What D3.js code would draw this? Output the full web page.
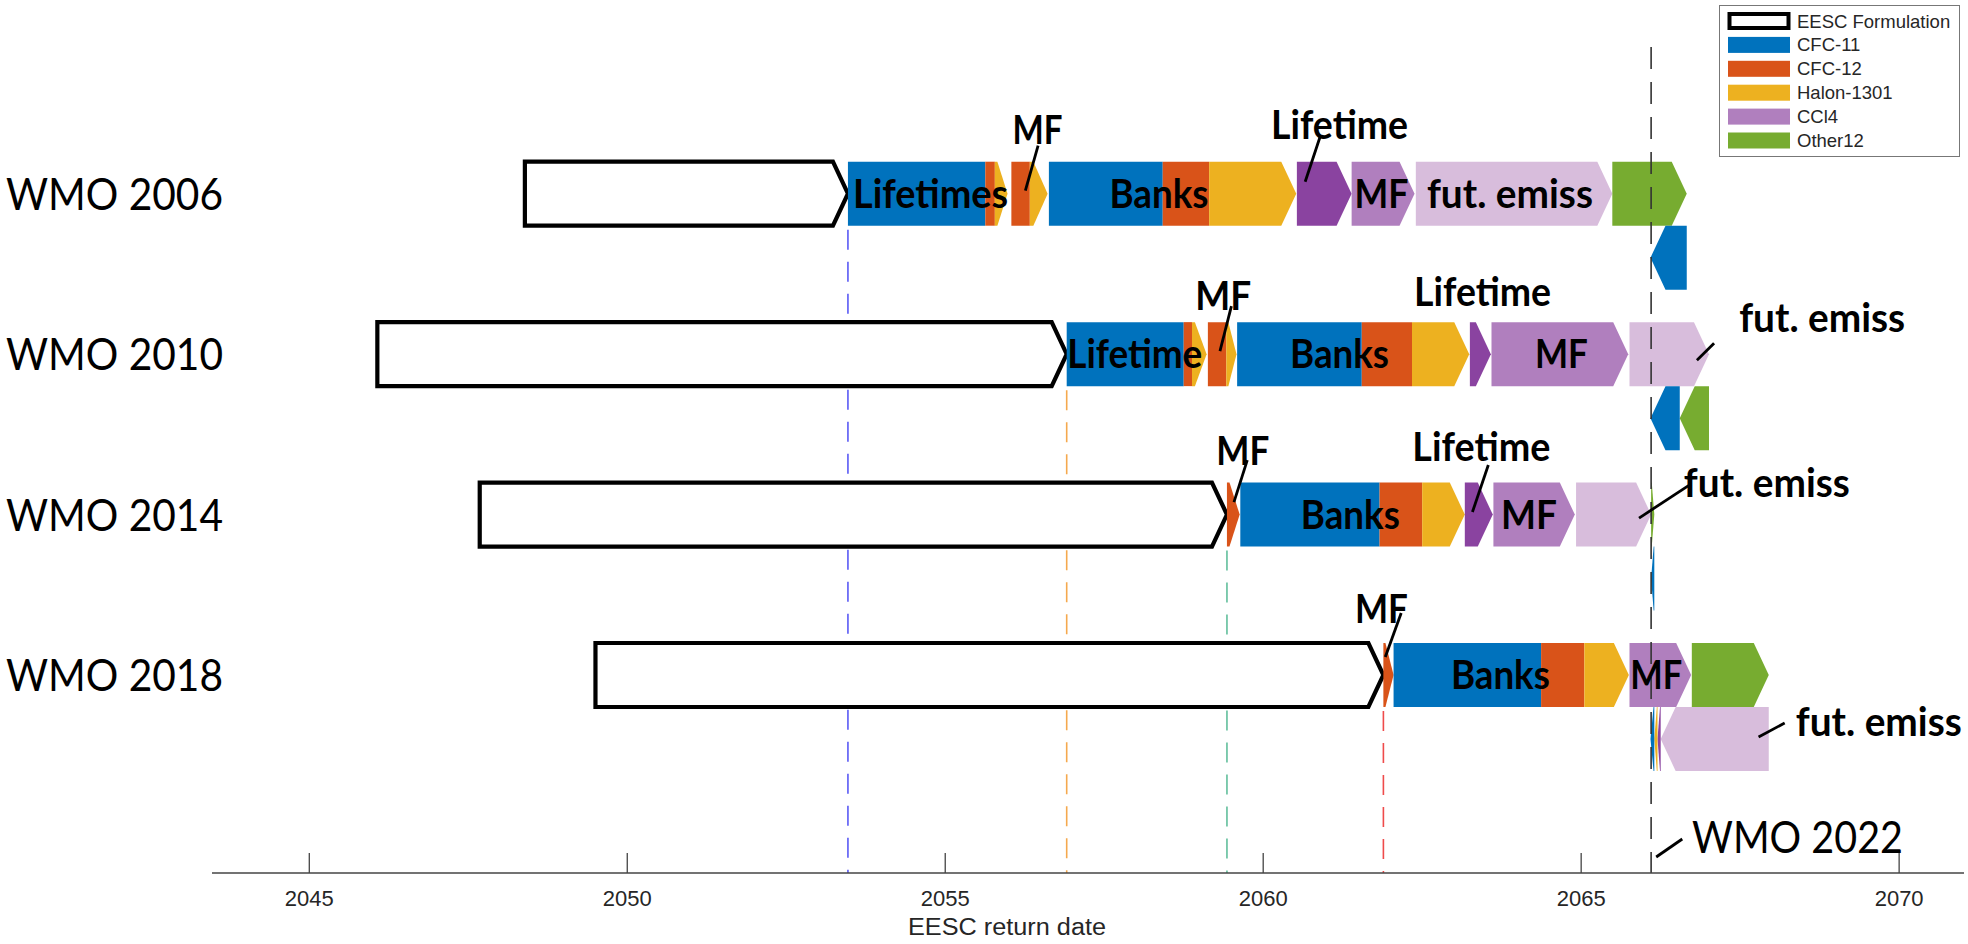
<!DOCTYPE html>
<html>
<head>
<meta charset="utf-8">
<script src="https://cdn.jsdelivr.net/npm/d3@7"></script>
<style>
  body { margin: 0; background: #fff; }
  svg { display: block; }
</style>
</head>
<body>
<svg id="chart" width="1968" height="944"></svg>
<script>
// rows of the chart and the EESC formulation arrow (start -> end, years)
var rows = ["WMO 2006", "WMO 2010", "WMO 2014", "WMO 2018"];
var eescStart = [2048.39, 2046.07, 2047.68, 2049.50];
var eescEnd = [2053.47, 2056.91, 2059.43, 2061.89];
var wmo2022 = 2066.1;

// contributions after the EESC arrow: [key, years, closes a group (gets a tip)]
// key null = small unfilled gap
var steps2006 = [
  ["CFC-11", 2.16, 0], ["CFC-12", 0.15, 0], ["Halon-1301", 0.20, 1],
  [null, 0.06, 1],
  ["CFC-12", 0.29, 0], ["Halon-1301", 0.28, 1],
  [null, 0.02, 1],
  ["CFC-11", 1.79, 0], ["CFC-12", 0.73, 0], ["Halon-1301", 1.37, 1],
  [null, 0.01, 1],
  ["CCl4-L", 0.86, 1],
  ["CCl4", 0.99, 1],
  [null, 0.02, 1],
  ["fut", 3.09, 1],
  ["Other12", 1.17, 1],
  ["CFC-11", -0.57, 1]
];
var steps2010 = [
  ["CFC-11", 1.84, 0], ["CFC-12", 0.13, 0], ["Halon-1301", 0.23, 1],
  [null, 0.02, 1],
  ["CFC-12", 0.29, 0], ["Halon-1301", 0.16, 1],
  [null, 0.01, 1],
  ["CFC-11", 1.96, 0], ["CFC-12", 0.79, 0], ["Halon-1301", 0.90, 1],
  [null, 0.01, 1],
  ["CCl4-L", 0.33, 1],
  [null, 0.01, 1],
  ["CCl4", 2.15, 1],
  [null, 0.02, 1],
  ["fut", 1.25, 1],
  ["Other12", -0.46, 1],
  ["CFC-11", -0.46, 1]
];
var steps2014 = [
  ["CFC-12", 0.20, 1],
  [null, 0.01, 1],
  ["CFC-11", 2.19, 0], ["CFC-12", 0.67, 0], ["Halon-1301", 0.67, 1],
  ["CCl4-L", 0.44, 1],
  [null, 0.01, 1],
  ["CCl4", 1.28, 1],
  [null, 0.02, 1],
  ["fut", 1.18, 1],
  ["Other12", 0.05, 1],
  ["CFC-11", -0.05, 1]
];
var steps2018 = [
  ["CFC-12", 0.16, 1],
  ["CFC-11", 2.32, 0], ["CFC-12", 0.68, 0], ["Halon-1301", 0.70, 1],
  [null, 0.01, 1],
  ["CCl4", 0.97, 1],
  [null, 0.01, 1],
  ["Other12", 1.21, 1],
  ["fut", -1.70, 1],
  ["CCl4-L", -0.05, 1], ["Halon-1301", -0.05, 1], ["CFC-11", -0.06, 1]
];
var allSteps = [steps2006, steps2010, steps2014, steps2018];

var legendKeys = ["EESC Formulation", "CFC-11", "CFC-12", "Halon-1301", "CCl4", "Other12"];
var xTicks = [2045, 2050, 2055, 2060, 2065, 2070];

// text notes: row, text, year of centre, offset from row centre, width, leader line
var notes = [
  [0, "Lifetimes", 2054.77, 0, 155],
  [0, "MF", 2056.45, -64, 50, [2056.46, -48, 2056.26, -3]],
  [0, "Banks", 2058.36, 0, 99],
  [0, "Lifetime", 2061.20, -69, 137, [2060.90, -58, 2060.66, -12]],
  [0, "MF", 2061.86, 0, 54],
  [0, "fut. emiss", 2063.88, 0, 166],
  [1, "Lifetime", 2057.98, 0, 135],
  [1, "MF", 2059.37, -58, 56, [2059.50, -48, 2059.32, -3]],
  [1, "Banks", 2061.20, 0, 99],
  [1, "Lifetime", 2063.45, -62, 137],
  [1, "MF", 2064.69, 0, 53],
  [1, "fut. emiss", 2068.79, -36, 166, [2067.09, -11, 2066.82, 6]],
  [2, "MF", 2059.68, -63.5, 53, [2059.75, -54.5, 2059.54, -12.5]],
  [2, "Banks", 2061.37, 0, 99],
  [2, "Lifetime", 2063.43, -67.5, 138, [2063.54, -49.5, 2063.29, -2.5]],
  [2, "MF", 2064.18, 0, 56],
  [2, "fut. emiss", 2067.92, -31.5, 166, [2066.70, -29.5, 2065.91, 3.5]],
  [3, "MF", 2061.86, -66, 53, [2062.17, -62, 2061.92, -18]],
  [3, "Banks", 2063.73, 0, 99],
  [3, "MF", 2066.18, 0, 52],
  [3, "fut. emiss", 2069.68, 47, 166, [2068.20, 48, 2067.79, 62]]
];

var colors = {
  "CFC-11": "#0072BD",
  "CFC-12": "#D95319",
  "Halon-1301": "#EDB120",
  "CCl4": "#B07FBE",
  "CCl4-L": "#8A43A0",
  "fut": "#D8BDDC",
  "Other12": "#77AC30"
};
var lineColors = ["#5a5af5", "#f5a94e", "#62bf9c", "#ef4b4b"];

var svg = d3.select("#chart");
var x = d3.scaleLinear().domain([2043.47, 2071.02]).range([212, 1964]);
var y = d3.scalePoint().domain(rows).range([193.7, 675]);
var barH = 64, axisY = 873;

// arrow shaped polygon from a to b (pixels), pointing towards b
function arrow(a, b, top, h, tip) {
  var dir = b >= a ? 1 : -1;
  var w = Math.abs(b - a);
  var t = tip ? Math.min(15, w * 0.8) : 0;
  var mid = top + h / 2;
  return "M" + a + "," + top + "L" + (b - dir * t) + "," + top + "L" + b + "," + mid +
    "L" + (b - dir * t) + "," + (top + h) + "L" + a + "," + (top + h) + "Z";
}

var gLines = svg.append("g");
var gBars = svg.append("g");
var gTop = svg.append("g");
var gText = svg.append("g");

// dashed return-date lines
rows.forEach(function(r, i) {
  gLines.append("line")
    .attr("x1", x(eescEnd[i])).attr("x2", x(eescEnd[i]))
    .attr("y1", y(r) + barH / 2 + 4).attr("y2", axisY)
    .attr("stroke", lineColors[i]).attr("stroke-width", 1.6)
    .attr("stroke-dasharray", "20,12");
});

rows.forEach(function(r, i) {
  var top = y(r) - barH / 2;
  // EESC formulation arrow
  gBars.append("path")
    .attr("d", arrow(x(eescStart[i]), x(eescEnd[i]), top, barH, true))
    .attr("fill", "#fff").attr("stroke", "#000").attr("stroke-width", 4.2)
    .attr("stroke-linejoin", "miter");

  var pos = eescEnd[i];
  allSteps[i].forEach(function(s) {
    var from = pos, to = pos + s[1];
    pos = to;
    if (!s[0]) return;
    var lane = s[1] < 0 ? 1 : 0;
    gBars.append("path")
      .attr("d", arrow(x(from), x(to), top + lane * barH, barH, s[2]))
      .attr("fill", colors[s[0]]);
  });
});

// WMO 2022 line
gTop.append("line")
  .attr("x1", x(wmo2022)).attr("x2", x(wmo2022))
  .attr("y1", 47).attr("y2", axisY)
  .attr("stroke", "#333").attr("stroke-width", 1.6)
  .attr("stroke-dasharray", "22,13");

// x axis
var axis = svg.append("g");
axis.append("line")
  .attr("x1", x.range()[0]).attr("x2", x.range()[1])
  .attr("y1", axisY).attr("y2", axisY)
  .attr("stroke", "#444").attr("stroke-width", 1.3);
axis.selectAll("line.tick").data(xTicks).enter().append("line")
  .attr("class", "tick")
  .attr("x1", d => x(d)).attr("x2", d => x(d))
  .attr("y1", axisY).attr("y2", axisY - 20)
  .attr("stroke", "#444").attr("stroke-width", 1.3);
axis.selectAll("text.tl").data(xTicks).enter().append("text")
  .attr("class", "tl")
  .attr("x", d => x(d)).attr("y", axisY + 33)
  .attr("text-anchor", "middle")
  .style("font", "22px 'Liberation Sans', Arial, sans-serif")
  .attr("fill", "#262626")
  .text(d => d);
axis.append("text")
  .attr("x", 1007).attr("y", 935)
  .attr("text-anchor", "middle")
  .attr("textLength", 198).attr("lengthAdjust", "spacingAndGlyphs")
  .style("font", "23px 'Liberation Sans', Arial, sans-serif")
  .attr("fill", "#262626")
  .text("EESC return date");

// row labels
rows.forEach(function(r) {
  gText.append("text")
    .attr("x", 6).attr("y", y(r) + 16)
    .attr("textLength", 217).attr("lengthAdjust", "spacingAndGlyphs")
    .style("font", "44px Lato, 'Open Sans', sans-serif")
    .text(r);
});

// annotations
notes.forEach(function(n) {
  var cy = y(rows[n[0]]);
  gText.append("text")
    .attr("x", x(n[2])).attr("y", cy + n[3] + 14)
    .attr("text-anchor", "middle")
    .attr("textLength", n[4]).attr("lengthAdjust", "spacingAndGlyphs")
    .style("font", "bold 40px Lato, 'Open Sans', sans-serif")
    .text(n[1]);
  if (n[5]) {
    gText.append("line")
      .attr("x1", x(n[5][0])).attr("y1", cy + n[5][1])
      .attr("x2", x(n[5][2])).attr("y2", cy + n[5][3])
      .attr("stroke", "#000").attr("stroke-width", 2.8);
  }
});

// WMO 2022 label
gText.append("line")
  .attr("x1", x(2066.59)).attr("y1", 839)
  .attr("x2", x(2066.18)).attr("y2", 857)
  .attr("stroke", "#000").attr("stroke-width", 2.8);
gText.append("text")
  .attr("x", 1692).attr("y", 853)
  .attr("textLength", 211).attr("lengthAdjust", "spacingAndGlyphs")
  .style("font", "44px Lato, 'Open Sans', sans-serif")
  .text("WMO 2022");

// legend
var lg = svg.append("g");
lg.append("rect")
  .attr("x", 1719.5).attr("y", 5.5).attr("width", 240).attr("height", 151)
  .attr("fill", "#fff").attr("stroke", "#777").attr("stroke-width", 1);
legendKeys.forEach(function(k, i) {
  var cy = 21 + i * 23.9;
  if (i == 0) {
    lg.append("rect")
      .attr("x", 1729.5).attr("y", cy - 7).attr("width", 59).attr("height", 14)
      .attr("fill", "#fff").attr("stroke", "#000").attr("stroke-width", 4);
  } else {
    lg.append("rect")
      .attr("x", 1728).attr("y", cy - 8).attr("width", 62).attr("height", 16)
      .attr("fill", colors[k]);
  }
  lg.append("text")
    .attr("x", 1797).attr("y", cy + 6.5)
    .style("font", "18.5px 'Liberation Sans', Arial, sans-serif")
    .attr("fill", "#262626")
    .text(k);
});
</script>
</body>
</html>
